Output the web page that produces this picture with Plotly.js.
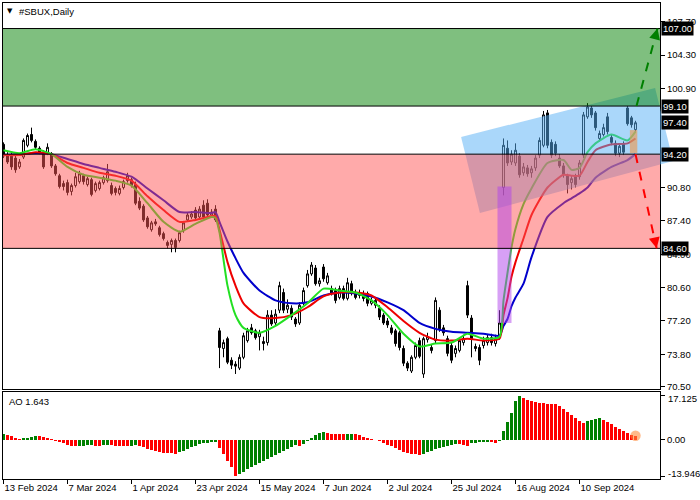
<!DOCTYPE html>
<html><head><meta charset="utf-8">
<script src="https://cdn.plot.ly/plotly-3.0.1.min.js"></script>
<style>html,body{margin:0;padding:0;background:#fff}#chart{width:700px;height:500px}</style>
</head><body><div id="chart"></div>
<script>
// ---------- data ----------
const tickIdx = [0,16,32,48,64,80,96,112,128,144];
const tickDates = ["13 Feb 2024","7 Mar 2024","1 Apr 2024","23 Apr 2024","15 May 2024","7 Jun 2024","2 Jul 2024","25 Jul 2024","16 Aug 2024","10 Sep 2024"];

const openP = [95.2,94.1,94.0,93.8,92.9,93.9,95.1,96.2,95.5,94.8,
94.4,94.3,94.2,93.0,92.0,91.2,91.3,90.4,91.0,91.4,
92.0,91.1,91.6,90.5,90.7,91.3,91.5,91.0,90.7,90.2,
90.8,91.5,91.6,91.1,89.4,88.9,87.7,86.5,87.3,86.7,
86.1,85.2,85.0,85.4,85.4,86.4,87.5,87.8,88.5,87.8,
89.0,89.2,88.0,88.6,76.2,74.4,75.4,73.2,72.8,72.4,
73.5,75.2,76.5,76.2,75.6,75.1,75.0,77.8,77.0,78.3,
80.1,78.4,78.5,77.4,77.0,79.0,80.8,82.0,82.6,81.0,
82.7,81.1,80.5,80.3,79.6,80.5,79.5,81.0,80.1,79.8,
80.0,80.0,79.0,78.8,78.5,77.8,77.2,76.5,76.2,76.0,
74.4,72.9,72.1,73.5,75.2,71.8,75.3,74.5,75.2,78.3,
76.5,75.4,74.7,73.9,74.2,75.0,80.8,77.5,74.6,74.5,
74.7,75.0,75.5,74.9,75.6,90.8,94.8,93.4,93.3,94.0,
92.3,92.8,92.3,92.8,94.1,95.1,98.4,95.4,95.2,93.8,
93.0,92.0,91.3,91.9,91.9,94.1,98.0,98.9,98.4,95.8,
96.2,98.0,95.9,95.3,94.3,95.2,98.9,97.9,96.7];
const highP = [95.4,94.4,94.3,94.1,93.7,95.8,96.3,96.9,95.7,95.0,
94.6,95.3,94.4,93.2,92.2,91.5,91.6,91.2,92.3,92.5,
92.2,91.9,91.8,91.4,91.5,92.0,93.2,91.3,90.9,91.0,
91.6,92.3,91.8,91.4,89.8,89.1,87.9,87.4,87.6,86.9,
86.3,85.4,85.6,85.6,86.4,87.4,88.2,88.4,88.8,88.9,
89.5,89.6,88.6,89.0,76.5,75.3,75.6,73.5,73.1,73.8,
76.0,76.5,76.9,76.4,76.3,75.6,78.3,78.3,78.4,81.2,
80.5,79.4,78.8,77.6,79.1,80.6,82.4,83.2,82.9,81.6,
83.0,82.1,80.8,80.6,80.8,80.8,81.6,81.3,80.4,80.4,
80.3,80.2,79.6,79.6,78.8,78.0,77.5,76.8,76.4,76.2,
74.7,73.1,73.7,75.0,75.5,75.6,76.0,74.8,79.6,78.6,
76.8,75.7,75.0,74.7,75.5,75.8,81.3,77.8,74.9,74.8,
75.6,75.8,75.9,75.8,78.3,95.8,95.6,94.6,95.3,94.3,
93.3,93.1,93.0,94.1,95.9,98.6,98.7,95.7,95.5,94.2,
93.3,92.2,92.0,92.2,93.6,98.5,99.4,99.1,98.6,96.6,
97.3,98.4,96.2,95.6,95.3,95.5,99.1,98.1,97.6];
const lowP = [93.8,93.2,92.6,92.3,92.7,93.7,94.9,95.4,94.7,94.2,
92.7,94.1,92.8,92.0,90.7,90.5,90.0,90.0,90.8,91.2,
91.1,90.9,89.9,90.3,90.5,91.1,91.3,90.0,90.0,90.0,
90.6,91.3,90.8,89.0,88.5,87.3,86.6,86.3,86.9,85.8,
85.4,84.6,84.2,84.2,85.2,86.2,87.3,87.6,87.5,87.6,
87.6,87.8,87.8,87.3,72.4,73.5,72.8,72.3,71.8,72.2,
73.3,75.0,75.8,75.3,74.2,74.2,74.7,76.7,76.8,78.0,
78.0,78.0,77.3,76.6,76.8,78.8,80.6,81.8,80.8,80.7,
81.2,80.9,79.8,79.0,79.4,79.3,79.3,79.8,79.4,79.5,
79.2,78.7,78.8,78.5,77.3,76.8,76.5,75.8,74.6,74.2,
72.6,72.1,71.9,73.3,73.4,71.4,75.0,73.9,74.9,76.1,
75.7,73.6,72.9,73.5,74.0,74.7,77.5,73.5,74.1,72.7,
74.4,74.7,74.7,74.6,75.3,90.0,93.0,93.1,93.0,91.8,
92.0,91.9,91.8,92.5,93.8,94.9,94.8,93.8,94.0,92.8,
91.8,90.2,90.6,90.8,91.6,93.8,97.8,97.9,96.6,95.5,
96.0,96.2,95.1,94.0,93.9,94.1,97.1,96.9,96.5];
const closeP = [94.0,93.4,92.9,92.6,93.4,95.6,96.1,95.6,94.9,94.4,
92.9,94.9,93.0,92.2,90.9,90.9,90.3,91.0,91.9,92.2,
91.4,91.7,90.1,91.2,91.3,91.8,92.4,90.2,90.3,90.7,
91.4,92.0,91.0,89.2,88.7,87.5,86.8,87.2,87.1,86.0,
85.6,84.9,85.4,84.7,86.2,87.2,88.0,88.1,87.7,88.6,
87.8,88.0,88.3,87.5,74.5,75.0,73.0,72.7,72.6,73.5,
75.7,76.2,76.0,75.5,76.0,74.9,77.8,76.9,77.9,80.8,
78.3,78.8,77.6,76.9,78.8,80.3,82.0,82.9,81.0,81.3,
81.5,81.8,80.0,79.3,80.5,79.5,81.1,80.0,79.6,80.0,
79.5,79.0,79.3,79.3,77.6,77.0,76.8,76.0,74.9,74.5,
72.9,72.4,73.5,74.7,73.6,75.4,75.6,74.2,79.3,76.4,
76.0,73.9,73.2,74.4,75.2,75.4,77.8,75.4,74.4,73.2,
75.2,75.5,75.0,75.4,77.0,95.1,93.3,94.2,94.6,92.1,
92.9,92.2,92.7,93.8,95.6,98.2,95.1,94.1,94.3,93.0,
92.1,91.1,91.7,91.1,93.3,98.2,99.0,98.2,96.9,96.3,
96.9,96.5,95.4,94.3,95.0,94.4,97.3,97.2,97.4];

const maIdx = [0,4,8,12,16,20,24,28,32,36,40,44,48,52,53,54,56,58,60,64,68,72,76,80,84,88,92,96,100,104,108,112,116,120,124,125,126,127,128,130,132,136,140,142,144,146,148,152,156,158];
const maFast = [94.6,94.3,94.7,94.2,92.9,92.1,91.8,91.5,91.0,89.2,87.3,86.3,87.1,87.8,87.7,86.2,80.8,77.8,76.5,76.0,76.7,77.8,79.0,80.5,80.3,80.1,79.3,77.8,75.9,74.6,74.9,75.0,75.9,75.4,75.6,79.3,82.1,84.7,86.6,89.1,90.7,93.3,93.6,92.6,92.8,94.4,95.3,96.2,95.6,96.5];
const maMid = [94.1,94.1,94.4,94.2,93.3,92.8,92.3,92.0,91.5,89.9,88.5,87.3,87.5,87.9,87.9,86.5,83.2,80.8,79.0,77.6,77.5,77.8,78.6,79.7,80.1,80.1,79.8,78.6,77.2,76.0,75.3,75.2,75.4,75.2,75.4,77.8,79.5,81.7,83.2,85.6,88.0,90.8,92.1,92.0,92.0,93.4,94.6,95.2,95.3,95.8];
const maSlow = [94.1,94.2,94.3,94.2,93.7,93.2,92.8,92.4,91.9,90.7,89.5,88.3,88.3,88.2,88.3,87.3,85.3,83.6,82.1,80.3,79.3,79.0,79.1,79.8,80.1,80.0,79.7,79.1,78.3,77.0,76.4,76.1,76.0,75.9,75.7,76.7,77.4,78.7,79.6,81.0,83.7,87.8,89.2,89.7,90.2,90.8,91.8,92.9,93.6,94.2];

const aoVals = [2.4,2.0,1.4,0.8,0.4,0.6,0.9,1.3,1.6,1.5,
1.2,0.8,0.3,-0.3,-0.8,-1.3,-1.8,-2.2,-2.4,-2.3,
-2.2,-2.1,-2.0,-2.2,-2.3,-2.1,-2.0,-2.1,-2.2,-2.3,
-2.35,-2.4,-2.2,-2.1,-2.4,-2.9,-3.4,-3.8,-4.2,-4.6,
-4.9,-5.1,-5.2,-5.3,-4.8,-4.1,-3.4,-2.8,-2.2,-1.7,
-1.3,-1.0,-0.9,-0.8,-3.1,-5.3,-8.1,-10.6,-13.946,-13.1,
-12.2,-11.3,-10.5,-9.7,-8.9,-8.1,-7.4,-6.7,-6.0,-5.2,
-4.4,-3.6,-2.8,-2.1,-2.4,-1.4,-0.3,0.8,1.8,2.6,
3.0,2.6,2.5,2.45,2.4,2.3,2.4,2.5,2.2,1.8,
1.3,0.9,0.5,0.1,-0.5,-1.1,-1.8,-2.5,-3.2,-3.9,
-4.5,-5.0,-5.3,-5.6,-5.7,-5.3,-4.8,-4.2,-3.6,-3.1,
-2.6,-2.2,-1.8,-1.4,-1.5,-1.9,-2.2,-1.3,-1.0,-0.8,
-0.7,-0.6,-0.9,-1.0,-0.4,3.6,7.0,10.6,15.0,17.125,
16.3,15.6,15.0,14.5,14.2,14.15,14.1,14.05,14.0,13.2,
12.0,10.8,9.6,8.4,7.4,6.6,7.3,7.9,8.3,8.6,
7.9,7.0,6.0,5.0,4.1,3.3,2.6,2.0,1.643];

const priceTicks = [107.7,104.3,100.9,90.8,87.4,84.0,80.6,77.2,73.8,70.5];
const levelVals = [107.0,99.1,94.2,84.6];
const labelVals = [107.0,99.1,97.4,94.2,84.6];
const aoTicks = [17.125,0,-13.946];
const aoTickText = ["17.125","0.00","-13.946"];
const channelIdx = [114.4,162.9,167.4,119.1];
const channelPrice = [95.95,100.94,93.5,88.2];
const gapIdx = [123.5,127];
const gapPrice = [77.0,90.9];
const lastBoxIdx = [156.6,158.45];
const lastBoxPrice = [94.3,96.65];
const upArrowIdx = [158.25,163.5];
const upArrowPrice = [99.1,107.0];
const downArrowIdx = [158,163.3];
const downArrowPrice = [94.2,84.6];

// ---------- layout geometry ----------
const W = 700, H = 500, ML = 3, MR = 40, MT = 3, MB = 21;
const PW = W - ML - MR, PH = H - MT - MB;
const XR = [-0.125, 164.125];
const YR = [70.27, 109.6];
const AOR = [-15.1, 18.56];
const MAIN_DOM = [(479 - 389) / PH, 1];
const AO_DOM = [0, (479 - 392) / PH];

const pX = i => (i - XR[0]) / (XR[1] - XR[0]);
const pY = p => MAIN_DOM[0] + (p - YR[0]) / (YR[1] - YR[0]) * (MAIN_DOM[1] - MAIN_DOM[0]);
const pixX = i => ML + pX(i) * PW;
const pixY = p => MT + (1 - pY(p)) * PH;
const ppx = x => (x - ML) / PW;
const ppy = y => (H - MB - y) / PH;

const idx = openP.map((_, i) => i);
const aoIdx = aoVals.map((_, i) => i);
const aoColors = aoVals.map((v, i) => (i === 0 || v >= aoVals[i - 1]) ? '#008000' : '#ff0000');

const FONT = {family: 'Liberation Sans, Arial, sans-serif', size: 9.5, color: '#000'};

const traces = [
  {type: 'candlestick', x: idx, open: openP, high: highP, low: lowP, close: closeP,
   xaxis: 'x2', yaxis: 'y', whiskerwidth: 0, hoverinfo: 'skip', showlegend: false,
   increasing: {line: {color: '#000', width: 1}, fillcolor: '#ffffff'},
   decreasing: {line: {color: '#000', width: 1}, fillcolor: '#000000'}},
  {type: 'scatter', mode: 'lines', x: maIdx, y: maSlow, xaxis: 'x2', yaxis: 'y', showlegend: false,
   line: {color: '#0000cc', width: 2, shape: 'spline', smoothing: 0.6}, hoverinfo: 'skip'},
  {type: 'scatter', mode: 'lines', x: maIdx, y: maMid, xaxis: 'x2', yaxis: 'y', showlegend: false,
   line: {color: '#ee0000', width: 2, shape: 'spline', smoothing: 0.6}, hoverinfo: 'skip'},
  {type: 'scatter', mode: 'lines', x: maIdx, y: maFast, xaxis: 'x2', yaxis: 'y', showlegend: false,
   line: {color: '#22e022', width: 2, shape: 'spline', smoothing: 0.6}, hoverinfo: 'skip'},
  {type: 'bar', x: aoIdx, y: aoVals, xaxis: 'x', yaxis: 'y2', width: 0.72, showlegend: false,
   marker: {color: aoColors, line: {width: 0}}, hoverinfo: 'skip'}
];

const chPath = 'M ' + channelIdx.map((c, k) => pX(c).toFixed(5) + ',' + pY(channelPrice[k]).toFixed(5)).join(' L ') + ' Z';
const lastI = aoVals.length - 1;
const paperRect = (y0, y1, fill) => ({type: 'rect', xref: 'paper', yref: 'paper', x0: 0, x1: 1, y0: pY(y0), y1: pY(y1), fillcolor: fill, line: {width: 0}, layer: 'above'});

const shapes = [
  {type: 'path', path: chPath, xref: 'paper', yref: 'paper', fillcolor: 'rgba(85,175,245,0.5)', line: {width: 0}, layer: 'above'},
  paperRect(levelVals[1], levelVals[0], 'rgba(0,128,0,0.5)'),
  paperRect(levelVals[3], levelVals[2], 'rgba(255,85,85,0.5)'),
  {type: 'rect', xref: 'paper', yref: 'paper', x0: pX(gapIdx[0]), x1: pX(gapIdx[1]), y0: pY(gapPrice[0]), y1: pY(gapPrice[1]), fillcolor: 'rgba(175,65,235,0.5)', line: {width: 0}, layer: 'above'},
  {type: 'rect', xref: 'paper', yref: 'paper', x0: pX(lastBoxIdx[0]), x1: pX(lastBoxIdx[1]), y0: pY(lastBoxPrice[0]), y1: pY(lastBoxPrice[1]), fillcolor: 'rgba(240,150,70,0.6)', line: {width: 0}, layer: 'above'}
];
levelVals.forEach(v => shapes.push({type: 'line', xref: 'paper', yref: 'paper', x0: 0, x1: 1, y0: pY(v), y1: pY(v), line: {color: '#000', width: 1}, layer: 'above'}));
shapes.push({type: 'line', xref: 'x2', yref: 'y', x0: upArrowIdx[0], x1: upArrowIdx[1], y0: upArrowPrice[0], y1: upArrowPrice[1], line: {color: '#008000', width: 2, dash: 'dash'}, layer: 'above'});
shapes.push({type: 'line', xref: 'x2', yref: 'y', x0: downArrowIdx[0], x1: downArrowIdx[1], y0: downArrowPrice[0], y1: downArrowPrice[1], line: {color: '#ff0000', width: 2, dash: 'dash'}, layer: 'above'});
shapes.push({type: 'circle', xref: 'x', yref: 'y2', x0: lastI - 1.3, x1: lastI + 1.3, y0: aoVals[lastI] - 2.0, y1: aoVals[lastI] + 2.0, fillcolor: 'rgba(255,140,60,0.6)', line: {width: 0}, layer: 'above'});

function arrowHead(ix, pr, color) {
  const x0 = pixX(ix[0]), y0 = pixY(pr[0]), x1 = pixX(ix[1]), y1 = pixY(pr[1]);
  const len = Math.hypot(x1 - x0, y1 - y0);
  const ux = (x1 - x0) / len, uy = (y1 - y0) / len;
  return {xref: 'x2', yref: 'y', x: ix[1], y: pr[1], ax: -ux * 12, ay: -uy * 12, text: '', showarrow: true,
          arrowhead: 2, arrowsize: 1.1, arrowwidth: 2, arrowcolor: color, standoff: 0};
}

const annotations = [
  {xref: 'paper', yref: 'paper', x: ppx(5), y: ppy(11), xanchor: 'left', yanchor: 'middle', text: '▼', showarrow: false, font: {family: 'DejaVu Sans', size: 7, color: '#000'}},
  {xref: 'paper', yref: 'paper', x: ppx(17), y: ppy(11), xanchor: 'left', yanchor: 'middle', text: '#SBUX,Daily', showarrow: false, font: FONT},
  {xref: 'paper', yref: 'paper', x: ppx(7), y: ppy(401), xanchor: 'left', yanchor: 'middle', text: 'AO ' + aoVals[lastI].toFixed(3), showarrow: false, font: FONT},
  // extreme AO scale values, placed just inside the panel as in the reference
  {xref: 'paper', yref: 'paper', x: 1, xshift: 6, y: ppy(398.5), xanchor: 'left', yanchor: 'middle', text: aoTickText[0], showarrow: false, font: FONT},
  {xref: 'paper', yref: 'paper', x: 1, xshift: 6, y: ppy(473), xanchor: 'left', yanchor: 'middle', text: aoTickText[2], showarrow: false, font: FONT},
  arrowHead(upArrowIdx, upArrowPrice, '#008000'),
  arrowHead(downArrowIdx, downArrowPrice, '#ff0000')
];
labelVals.forEach(v => annotations.push({xref: 'paper', yref: 'y', x: 1, y: v, xanchor: 'left', yanchor: 'middle', xshift: 1,
  text: v.toFixed(2), showarrow: false, bgcolor: '#000', borderpad: 1, font: {family: FONT.family, size: 9.5, color: '#fff'}}));

const axCommon = {showgrid: false, zeroline: false, showline: true, linecolor: '#000', linewidth: 1, mirror: true, fixedrange: true};

const layout = {
  width: W, height: H, margin: {l: ML, r: MR, t: MT, b: MB, pad: 0},
  paper_bgcolor: '#fff', plot_bgcolor: '#fff', showlegend: false, bargap: 0,
  font: FONT,
  xaxis: Object.assign({}, axCommon, {domain: [0, 1], range: XR, anchor: 'y2', type: 'linear',
    tickmode: 'array', tickvals: tickIdx, ticktext: tickDates, ticks: 'outside', ticklen: 4, tickcolor: '#000',
    ticklabelposition: 'outside right', tickfont: FONT, rangeslider: {visible: false}}),
  xaxis2: Object.assign({}, axCommon, {domain: [0, 1], range: XR, anchor: 'y', type: 'linear',
    showticklabels: false, ticks: '', rangeslider: {visible: false}}),
  yaxis: Object.assign({}, axCommon, {domain: MAIN_DOM, range: YR, anchor: 'x2', side: 'right',
    tickmode: 'array', tickvals: priceTicks, ticktext: priceTicks.map(v => v.toFixed(2)),
    ticks: 'outside', ticklen: 4, tickcolor: '#000', tickfont: FONT}),
  yaxis2: Object.assign({}, axCommon, {domain: AO_DOM, range: AOR, anchor: 'x', side: 'right',
    tickmode: 'array', tickvals: aoTicks, ticktext: ['', aoTickText[1], ''],
    ticks: 'outside', ticklen: 4, tickcolor: '#000', tickfont: FONT}),
  shapes: shapes,
  annotations: annotations
};

Plotly.newPlot('chart', traces, layout, {staticPlot: true, displayModeBar: false});
</script>
</body></html>
